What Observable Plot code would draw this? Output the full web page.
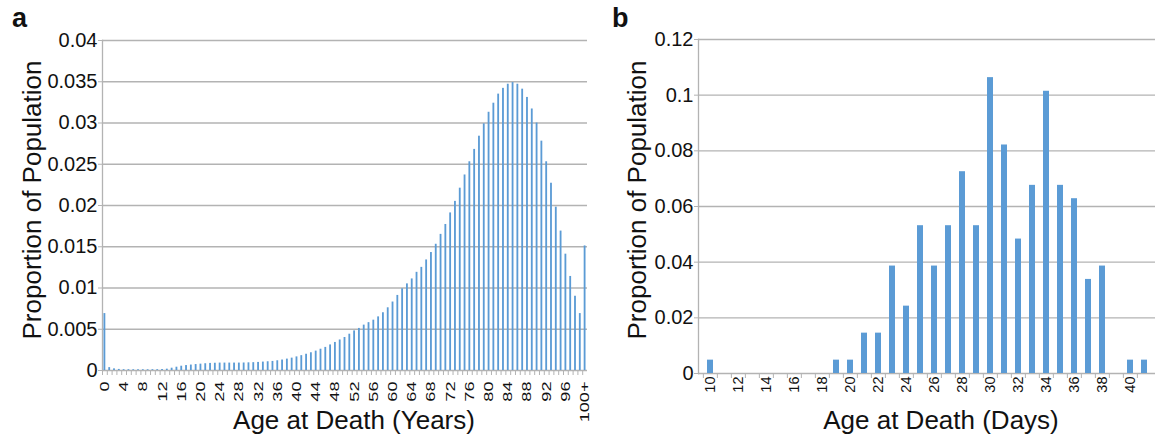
<!DOCTYPE html>
<html><head><meta charset="utf-8">
<script src="https://cdn.jsdelivr.net/npm/d3@7"></script>
<script src="https://cdn.jsdelivr.net/npm/@observablehq/plot@0.6"></script>
<style>
body{margin:0;background:#fff;}
#wrap{position:relative;width:1157px;height:437px;overflow:hidden;font-family:"Liberation Sans",Arial,Helvetica,sans-serif;color:#111;background:#fff;}
.panel{position:absolute;top:0;}
.lbl{position:absolute;white-space:nowrap;line-height:1;font-size:26px;color:#111;}
.letter{position:absolute;line-height:1;font-size:27px;font-weight:bold;color:#111;}
</style></head><body><div id="wrap"></div>
<script>
// ---- Panel a: age at death in years ----
const yearsCategories = Array.from({length: 100}, (_, i) => String(i)).concat(["100+"]);
const yearsValues = [
  0.0069, 0.00035, 0.0002, 0.00013, 0.0001, 0.0001, 0.00009, 0.00009, 0.00009, 0.00009,
  0.0001, 0.0001, 0.00012, 0.00016, 0.00028, 0.0004, 0.00052, 0.0006, 0.00066, 0.00072,
  0.00077, 0.00082, 0.00086, 0.00088, 0.0009, 0.0009, 0.0009, 0.0009, 0.0009, 0.00091,
  0.00093, 0.00095, 0.00098, 0.00102, 0.00106, 0.0011, 0.00118, 0.00127, 0.00138, 0.0015,
  0.00165, 0.0018, 0.00197, 0.00215, 0.00235, 0.00258, 0.0028, 0.0031, 0.0034, 0.0037,
  0.0040, 0.0044, 0.0048, 0.0051, 0.0055, 0.0058, 0.0061, 0.0065, 0.0070, 0.0076,
  0.0083, 0.0091, 0.0099, 0.0105, 0.0111, 0.0119, 0.0125, 0.0134, 0.0143, 0.0153,
  0.0165, 0.0177, 0.0191, 0.0205, 0.0221, 0.0237, 0.0253, 0.0268, 0.0284, 0.0299,
  0.0313, 0.0324, 0.0335, 0.0342, 0.0347, 0.0349, 0.0347, 0.0341, 0.0331, 0.0317,
  0.0300, 0.0278, 0.0253, 0.0227, 0.0198, 0.0169, 0.0141, 0.0114, 0.0090, 0.0069,
  0.0151
];
const yearsTickLabels = ["0","4","8","12","16","20","24","28","32","36","40","44","48","52","56","60","64","68","72","76","80","84","88","92","96","100+"];
const yearsYTicks = [0, 0.005, 0.01, 0.015, 0.02, 0.025, 0.03, 0.035, 0.04];

// ---- Panel b: age at death in days ----
const daysCategories = ["10","11","12","13","14","15","16","17","18","19","20","21","22","23","24","25","26","27","28","29","30","31","32","33","34","35","36","37","38","39","40","41"];
const daysValues = [
  0.0048, 0, 0, 0, 0, 0, 0, 0, 0, 0.0048,
  0.0048, 0.0145, 0.0145, 0.0386, 0.0242, 0.0531, 0.0386, 0.0531, 0.0725, 0.0531,
  0.1063, 0.0821, 0.0483, 0.0676, 0.1014, 0.0676, 0.0628, 0.0338, 0.0386, 0,
  0.0048, 0.0048
];
const daysTickLabels = ["10","12","14","16","18","20","22","24","26","28","30","32","34","36","38","40"];
const daysYTicks = [0, 0.02, 0.04, 0.06, 0.08, 0.1, 0.12];

const gray = "#b3b3b3";
const blue = "#5b9bd5";
const fontFamily = '"Liberation Sans", Arial, Helvetica, sans-serif';

function makePanel(o) {
  const data = o.cats.map((c, i) => ({c, v: o.vals[i]}));
  const step = (o.width - o.ml - o.mr) / o.cats.length;
  return Plot.plot({
    width: o.width, height: 437,
    marginLeft: o.ml, marginRight: o.mr, marginTop: o.mt, marginBottom: o.mb,
    style: {fontFamily, background: "transparent", color: "#111", overflow: "visible"},
    x: {type: "band", domain: o.cats, paddingInner: o.pad, paddingOuter: o.pad / 2},
    y: {domain: [0, o.yMax]},
    marks: [
      Plot.ruleY(o.yTicks, {stroke: gray, strokeWidth: 1.3}),
      Plot.frame({anchor: "left", stroke: gray, strokeWidth: 1.3}),
      Plot.barY(data, {x: "c", y: "v", fill: blue}),
      Plot.axisY({ticks: o.yTicks, tickSize: 4, tickPadding: 1, stroke: gray,
        tickFormat: d => String(+d.toFixed(4)), fontSize: 20, label: null}),
      Plot.axisX({ticks: o.cats, tickSize: 5, tickFormat: () => "", dx: -step / 2, stroke: gray, label: null}),
      Plot.text(o.xTicks, {x: d => d, frameAnchor: "bottom", rotate: -90, textAnchor: "end",
        lineAnchor: "middle", dy: o.xPad, fontSize: o.xFont, fill: "#111"})
    ]
  });
}

function stretchLabels(chart, k) {
  Array.from(chart.querySelectorAll("text"))
    .filter(t => (t.getAttribute("transform") || "").includes("rotate(-90"))
    .forEach(t => t.setAttribute("transform", t.getAttribute("transform") + " scale(" + k + ",1)"));
}

const wrap = document.getElementById("wrap");

const a = makePanel({cats: yearsCategories, vals: yearsValues, xTicks: yearsTickLabels, yTicks: yearsYTicks,
  yMax: 0.04, width: 590, ml: 102, mr: 3, mt: 40, mb: 67, pad: 0.62, xFont: 12.5, xPad: 11});
a.classList.add("panel"); a.style.left = "0px";
wrap.appendChild(a);
stretchLabels(a, 1.45);

const b = makePanel({cats: daysCategories, vals: daysValues, xTicks: daysTickLabels, yTicks: daysYTicks,
  yMax: 0.12, width: 567, ml: 108, mr: 2, mt: 39, mb: 64, pad: 0.58, xFont: 14.5, xPad: 3});
b.classList.add("panel"); b.style.left = "590px";
wrap.appendChild(b);

function addDiv(cls, text, css) {
  const d = document.createElement("div");
  d.className = cls; d.textContent = text;
  Object.assign(d.style, css);
  wrap.appendChild(d);
}
addDiv("letter", "a", {left: "12px", top: "5px"});
addDiv("letter", "b", {left: "612px", top: "5px"});
addDiv("lbl", "Proportion of Population", {left: "32px", top: "200px", transform: "translate(-50%,-50%) rotate(-90deg)"});
addDiv("lbl", "Proportion of Population", {left: "637px", top: "200px", transform: "translate(-50%,-50%) rotate(-90deg)"});
addDiv("lbl", "Age at Death (Years)", {left: "354px", top: "407px", transform: "translateX(-50%)"});
addDiv("lbl", "Age at Death (Days)", {left: "941px", top: "407px", transform: "translateX(-50%)"});
</script>
</body></html>
